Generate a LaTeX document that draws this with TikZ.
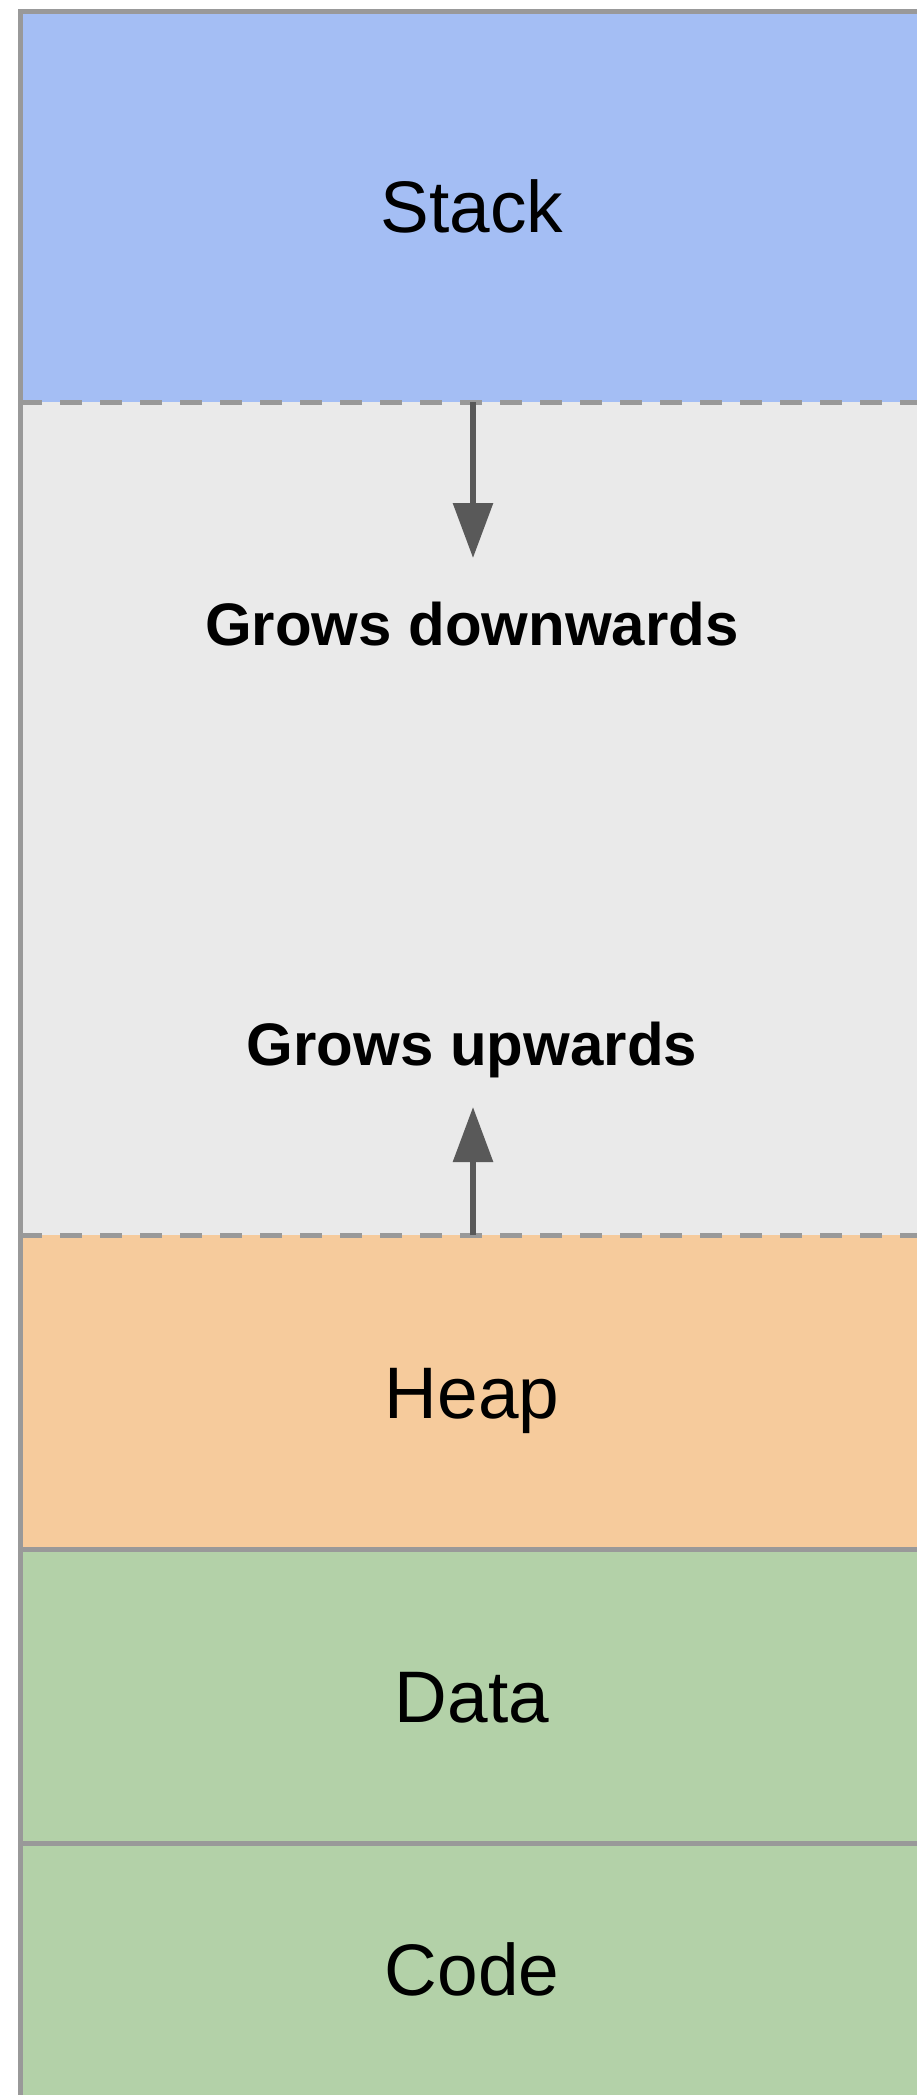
\documentclass[tikz,border=0pt]{standalone}
\usepackage{fontspec}
\setmainfont{Liberation Sans}
\usetikzlibrary{arrows.meta}
\definecolor{stackblue}{HTML}{A4BEF4}
\definecolor{freegray}{HTML}{EAEAEA}
\definecolor{heaporange}{HTML}{F6CB9C}
\definecolor{codegreen}{HTML}{B3D1A8}
\definecolor{bordergray}{HTML}{999999}
\definecolor{arrowgray}{HTML}{595959}
\begin{document}
\begin{tikzpicture}[x=1pt,y=-1pt,
  region/.style={inner sep=0pt, outer sep=0pt, anchor=north west, minimum width=897pt},
  sepline/.style={draw=bordergray, line width=5pt},
  dsepline/.style={sepline, dash pattern=on 22pt off 18pt},
  growarrow/.style={draw=arrowgray, line width=6pt, -{Triangle[width=39pt,length=55pt]}},
  biglabel/.style={font=\fontsize{73}{88}\selectfont, anchor=base, inner sep=0pt},
  smalllabel/.style={font=\fontsize{60}{72}\selectfont\bfseries, anchor=base, inner sep=0pt}]
\useasboundingbox (0,0) rectangle (917,2095);
\clip (0,0) rectangle (917,2095);
\node[region, fill=stackblue, minimum height=390pt] (stack) at (20,12) {};
\node[region, fill=freegray, minimum height=833pt] (free) at (20,402) {};
\node[region, fill=heaporange, minimum height=314pt] (heap) at (20,1235) {};
\node[region, fill=codegreen, minimum height=294pt] (data) at (20,1549) {};
\node[region, fill=codegreen, minimum height=260pt] (code) at (20,1843) {};
\draw[dsepline] (stack.south west) -- (stack.south east);
\draw[dsepline] (heap.north west) -- (heap.north east);
\draw[sepline] (data.north west) -- (data.north east);
\draw[sepline] (code.north west) -- (code.north east);
\draw[sepline] (code.south west) -- (stack.north west) -- (stack.north east);
\coordinate (downtip) at (473,558);
\coordinate (uptip) at (473,1107);
\draw[growarrow] (stack.south -| downtip) -- (downtip);
\draw[growarrow] (heap.north -| uptip) -- (uptip);
\node[biglabel] (stacklabel) at (472,233) {Stack};
\node[smalllabel] (downlabel) at (472,645) {Grows downwards};
\node[smalllabel] (uplabel) at (472,1065) {Grows upwards};
\node[biglabel] (heaplabel) at (472,1418) {Heap};
\node[biglabel] (datalabel) at (472,1722) {Data};
\node[biglabel] (codelabel) at (472,1995) {Code};
\end{tikzpicture}
\end{document}
